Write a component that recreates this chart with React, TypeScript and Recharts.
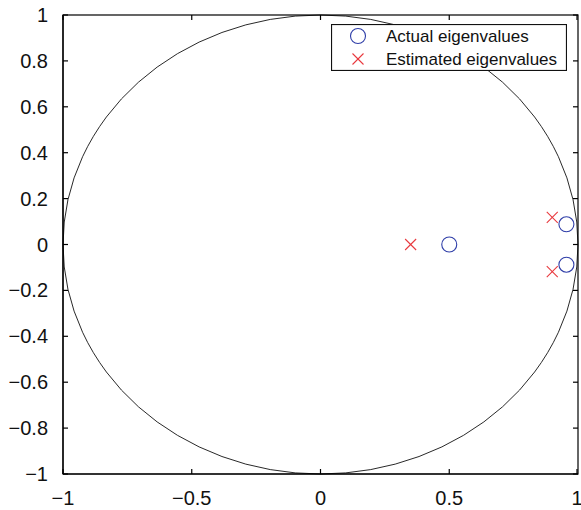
import React from 'react';
import { ScatterChart, Scatter, XAxis, YAxis, ReferenceArea } from 'recharts';

const actualX = [0.5, 0.955, 0.955];
const actualY = [0, 0.088, -0.088];
const estimatedX = [0.35, 0.9, 0.9];
const estimatedY = [0, 0.118, -0.118];
const xTicks = [-1, -0.5, 0, 0.5, 1];
const yTicks = [-1, -0.8, -0.6, -0.4, -0.2, 0, 0.2, 0.4, 0.6, 0.8, 1];
const seriesNames = ['Actual eigenvalues', 'Estimated eigenvalues'];

const actualData = actualX.map((x, i) => ({ x, y: actualY[i] }));
const estimatedData = estimatedX.map((x, i) => ({ x, y: estimatedY[i] }));

const BLUE = '#2f3ea8';
const RED = '#e8383d';
const FONT = '"Liberation Sans", Arial, sans-serif';
const TL = 5;

const CHART_W = 581;
const CHART_H = 510;
const MARGIN = { top: 15, right: 3, bottom: 0, left: 0 };
const PLOT_TOP = MARGIN.top;
const PLOT_RIGHT = CHART_W - MARGIN.right;

const fmt = (v: number) => {
  const s = String(Math.round(v * 10) / 10);
  return s.replace('-', '\u2212');
};

const BottomTick = (p: any) => (
  <g>
    <line x1={p.x} y1={p.y} x2={p.x} y2={p.y - TL} stroke="#000" strokeWidth={1.2} />
    <line x1={p.x} y1={PLOT_TOP} x2={p.x} y2={PLOT_TOP + TL} stroke="#000" strokeWidth={1.2} />
    <text x={p.x} y={p.y + 31} textAnchor="middle" fontSize={20} fontFamily={FONT} fill="#111">
      {fmt(p.payload.value)}
    </text>
  </g>
);
const LeftTick = (p: any) => (
  <g>
    <line x1={p.x} y1={p.y} x2={p.x + TL} y2={p.y} stroke="#000" strokeWidth={1.2} />
    <line x1={PLOT_RIGHT} y1={p.y} x2={PLOT_RIGHT - TL} y2={p.y} stroke="#000" strokeWidth={1.2} />
    <text x={p.x - 15} y={p.y + 7} textAnchor="end" fontSize={20} fontFamily={FONT} fill="#111">
      {fmt(p.payload.value)}
    </text>
  </g>
);

const CircleShape = (p: any) => (
  <circle cx={p.cx} cy={p.cy} r={7.5} fill="none" stroke={BLUE} strokeWidth={1.1} />
);
const CrossShape = (p: any) => (
  <g stroke={RED} strokeWidth={1.1}>
    <line x1={p.cx - 5.5} y1={p.cy - 5.5} x2={p.cx + 5.5} y2={p.cy + 5.5} />
    <line x1={p.cx - 5.5} y1={p.cy + 5.5} x2={p.cx + 5.5} y2={p.cy - 5.5} />
  </g>
);

const FrameAndCircle = (p: any) => (
  <g>
    <ellipse
      cx={p.x + p.width / 2}
      cy={p.y + p.height / 2}
      rx={p.width / 2}
      ry={p.height / 2}
      fill="none"
      stroke="#111"
      strokeWidth={0.9}
    />
    <rect x={p.x} y={p.y} width={p.width} height={p.height} fill="none" stroke="#000" strokeWidth={1.2} />
  </g>
);

const LegendBox = () => (
  <svg
    width={236}
    height={47}
    style={{ position: 'absolute', left: 331, top: 24 }}
    fontFamily={FONT}
    fontSize={17}
  >
    <rect x={0.5} y={0.5} width={235} height={46} fill="#fff" stroke="#111" strokeWidth={1.2} />
    <circle cx={27} cy={12} r={7.5} fill="none" stroke={BLUE} strokeWidth={1.1} />
    <text x={55} y={18} fill="#111">{seriesNames[0]}</text>
    <g stroke={RED} strokeWidth={1.1}>
      <line x1={21.5} y1={29.5} x2={32.5} y2={40.5} />
      <line x1={21.5} y1={40.5} x2={32.5} y2={29.5} />
    </g>
    <text x={55} y={41} fill="#111">{seriesNames[1]}</text>
  </svg>
);

export default function App() {
  return (
    <div
      style={{
        position: 'fixed',
        left: 0,
        top: 0,
        width: CHART_W,
        height: CHART_H,
        overflow: 'hidden',
        background: '#fff',
      }}
    >
      <ScatterChart width={CHART_W} height={CHART_H} margin={MARGIN}>
        <XAxis
          xAxisId="b"
          type="number"
          dataKey="x"
          domain={[-1, 1]}
          ticks={xTicks}
          orientation="bottom"
          height={36}
          tickSize={0}
          tickMargin={0}
          tick={BottomTick}
          axisLine={{ stroke: '#000', strokeWidth: 1.2 }}
          allowDataOverflow
        />
        <YAxis
          yAxisId="l"
          type="number"
          dataKey="y"
          domain={[-1, 1]}
          ticks={yTicks}
          orientation="left"
          width={63}
          tickSize={0}
          tickMargin={0}
          tick={LeftTick}
          axisLine={{ stroke: '#000', strokeWidth: 1.2 }}
          allowDataOverflow
        />
        <ReferenceArea
          xAxisId="b"
          yAxisId="l"
          x1={-1}
          x2={1}
          y1={-1}
          y2={1}
          shape={FrameAndCircle}
          ifOverflow="visible"
        />
        <Scatter
          name={seriesNames[0]}
          data={actualData}
          xAxisId="b"
          yAxisId="l"
          shape={CircleShape}
          isAnimationActive={false}
        />
        <Scatter
          name={seriesNames[1]}
          data={estimatedData}
          xAxisId="b"
          yAxisId="l"
          shape={CrossShape}
          isAnimationActive={false}
        />
      </ScatterChart>
      <LegendBox />
    </div>
  );
}
